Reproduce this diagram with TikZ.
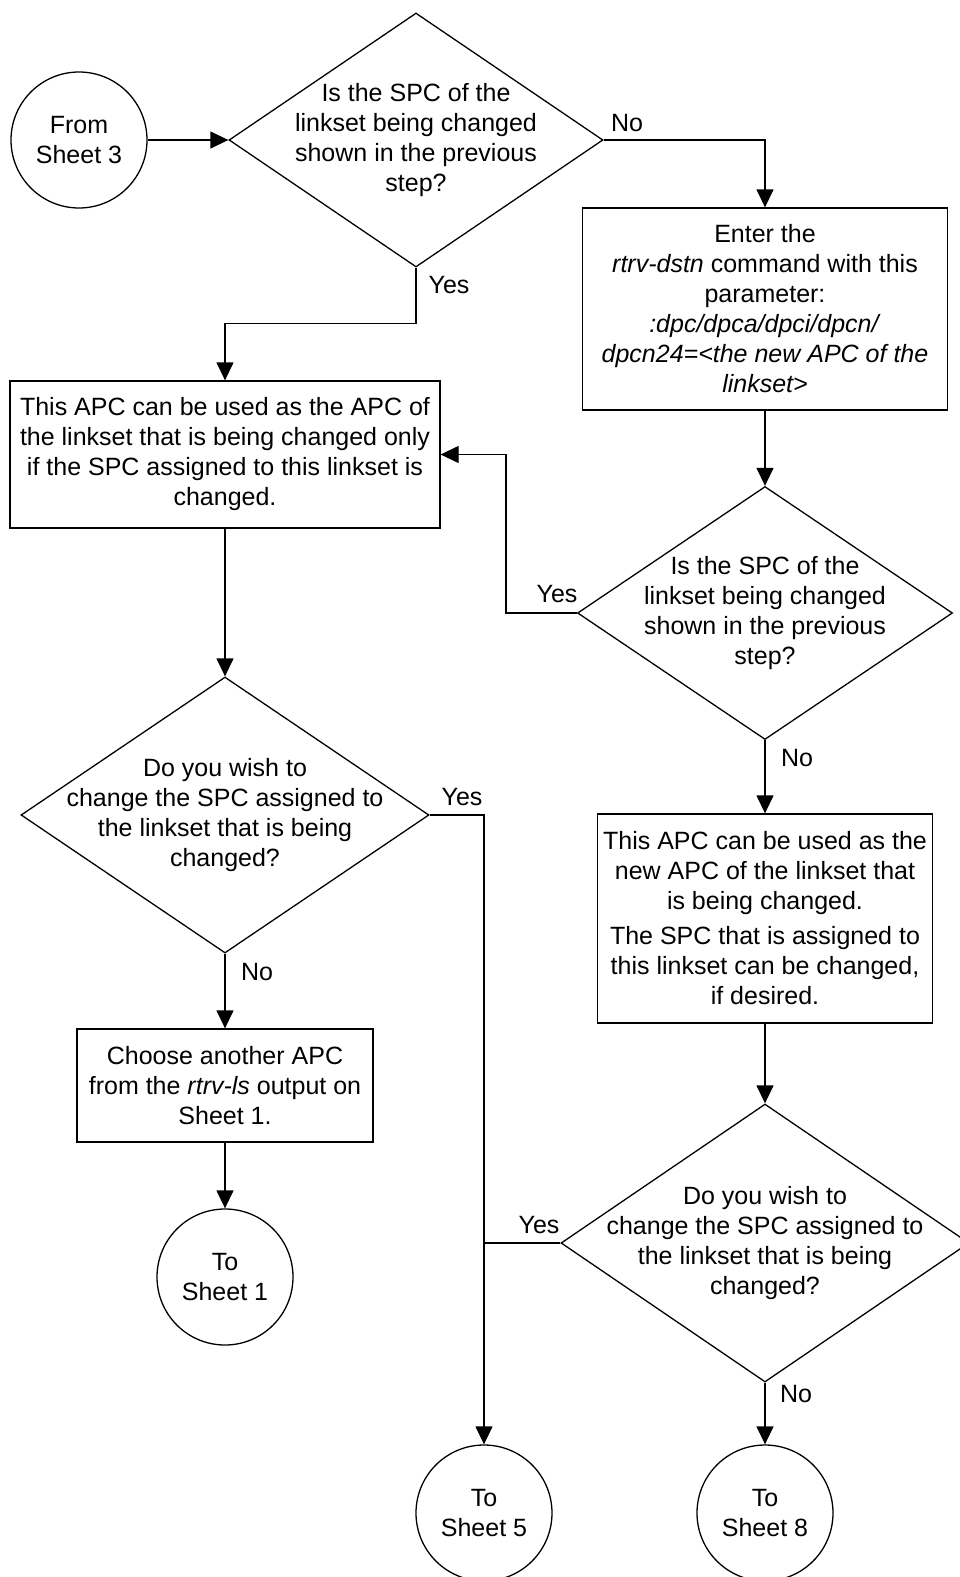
\documentclass[tikz,border=0pt]{standalone}
\usepackage{fontspec}
\setmainfont{Liberation Sans}
\usetikzlibrary{shapes.geometric,arrows.meta}
\begin{document}
\begin{tikzpicture}[x=1pt,y=-1pt,line width=1.3pt,
  every node/.style={font=\fontsize{25}{30}\selectfont},
  box/.style={draw,rectangle,align=center,inner sep=0pt},
  dec/.style={draw,diamond,inner sep=0pt},
  conn/.style={draw,circle,align=center,inner sep=0pt,minimum size=136pt},
  lbl/.style={inner sep=0pt},
  arr/.style={-{Triangle[length=18pt,width=17pt]}}]
\useasboundingbox[fill=white] (0,0) rectangle (959,1577);

% terminals
\node[conn] (from) at (79,140) {From\\Sheet 3};
\node[conn] (s1) at (225,1277) {To\\Sheet 1};
\node[conn] (s5) at (484,1513) {To\\Sheet 5};
\node[conn] (s8) at (765,1513) {To\\Sheet 8};

% decisions
\node[dec,minimum width=374pt,minimum height=254pt,
  label={[align=center]center:Is the SPC of the\\linkset being changed\\shown in the previous\\step?}] (d1) at (416,140) {};
\node[dec,minimum width=375pt,minimum height=253pt,
  label={[align=center]center:Is the SPC of the\\linkset being changed\\shown in the previous\\step?}] (d2) at (765,613) {};
\node[dec,minimum width=408pt,minimum height=276pt,
  label={[align=center]center:Do you wish to\\change the SPC assigned to\\the linkset that is being\\changed?}] (d3) at (225,815) {};
\node[dec,minimum width=408pt,minimum height=278pt,
  label={[align=center]center:Do you wish to\\change the SPC assigned to\\the linkset that is being\\changed?}] (d4) at (765,1243) {};

% boxes
\node[box,minimum width=365pt,minimum height=202pt] (enter) at (765,309)
  {Enter the\\\textit{rtrv-dstn} command with this\\parameter:\\\textit{:dpc/dpca/dpci/dpcn/}\\\textit{dpcn24=<the new APC of the}\\\textit{linkset>}};
\node[box,minimum width=430pt,minimum height=147pt] (box2) at (225,454.5)
  {This APC can be used as the APC of\\the linkset that is being changed only\\if the SPC assigned to this linkset is\\changed.};
\node[box,minimum width=335pt,minimum height=209pt] (box3) at (765,918.5)
  {This APC can be used as the\\new APC of the linkset that\\is being changed.\\[5pt]The SPC that is assigned to\\this linkset can be changed,\\if desired.};
\node[box,minimum width=296pt,minimum height=113pt] (box4) at (225,1085.5)
  {Choose another APC\\from the \textit{rtrv-ls} output on\\Sheet 1.};

% connectors
\draw[arr] (from.east) -- (d1.west);
\draw[arr] (d1.east) -| (enter.north);
\draw[arr] (d1.south) -- ++(0,56) -| (box2.north);
\draw[arr] (enter.south) -- (d2.north);
\draw[arr] (d2.west) -- ++(-71,0) |- (box2.east);
\draw[arr] (d2.south) -- (box3.north);
\draw[arr] (box2.south) -- (d3.north);
\draw[arr] (d3.south) -- (box4.north);
\draw[arr] (box4.south) -- (s1.north);
\draw[arr] (d3.east) -| (s5.north);
\draw (d4.west) -- (s5.north |- d4.west);
\draw[arr] (box3.south) -- (d4.north);
\draw[arr] (d4.south) -- (s8.north);

% branch labels
\node[lbl] (l1) at (627,123) {No};
\node[lbl] (l2) at (449,285) {Yes};
\node[lbl] (l3) at (557,594) {Yes};
\node[lbl] (l4) at (797,758) {No};
\node[lbl] (l5) at (462,797) {Yes};
\node[lbl] (l6) at (257,972) {No};
\node[lbl] (l7) at (539,1225) {Yes};
\node[lbl] (l8) at (796,1394) {No};
\end{tikzpicture}
\end{document}
